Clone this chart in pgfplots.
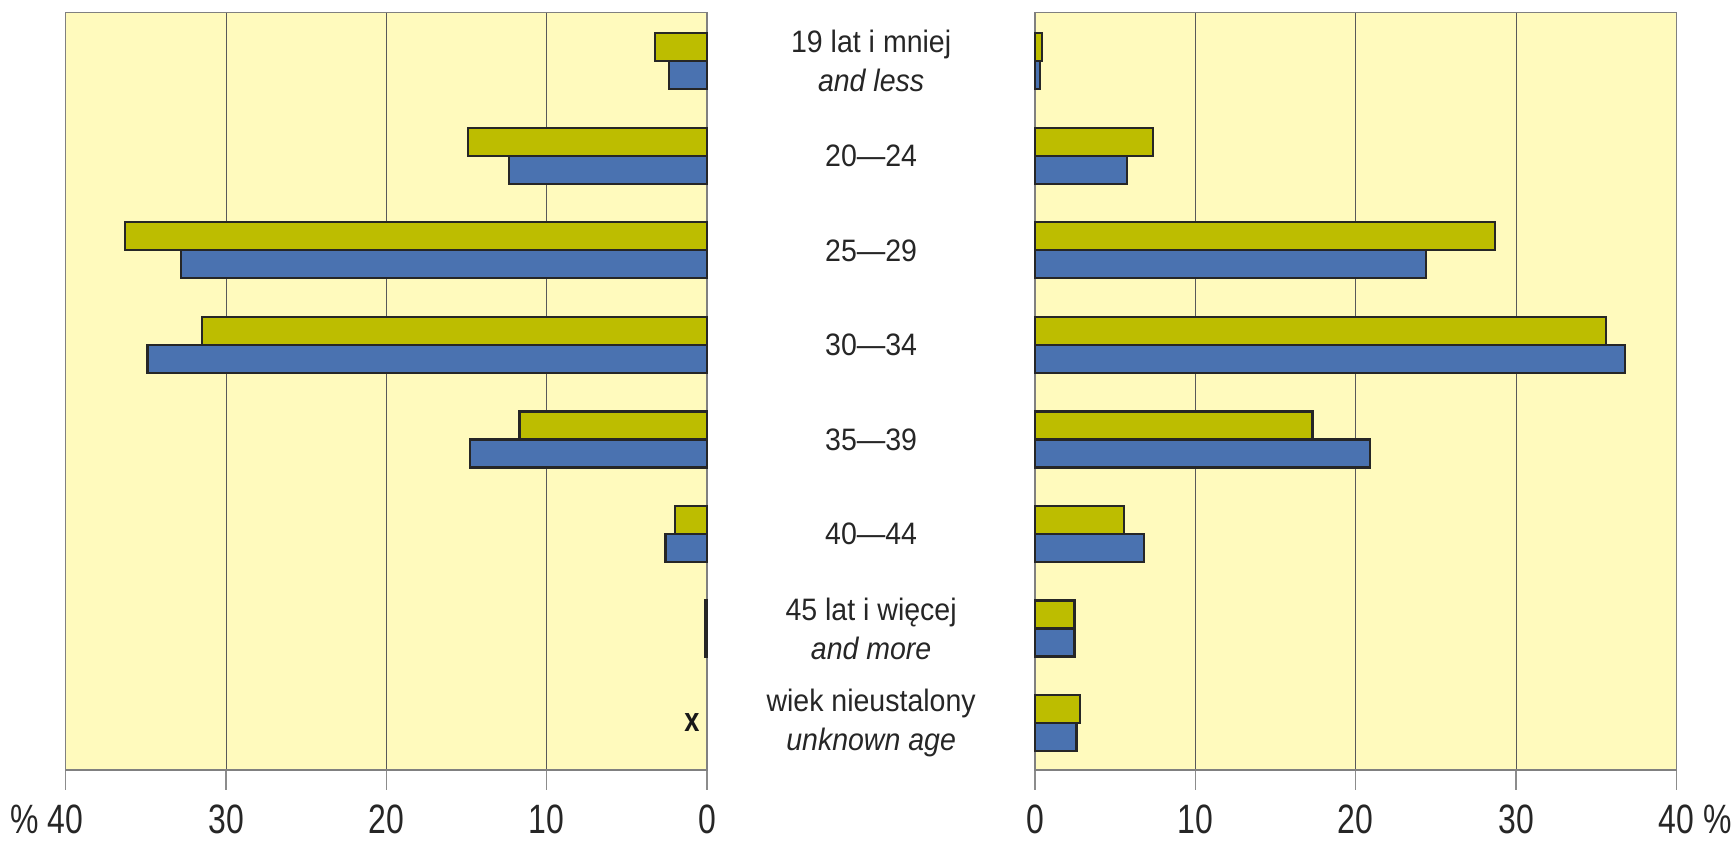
\documentclass[border=0pt]{standalone}
\usepackage{pgfplots}
\usepackage{pgfplotstable}
\pgfplotsset{compat=1.18}
\usepackage{fontspec}
\setmainfont{Liberation Sans}
\newfontfamily\catfont{Liberation Sans}[FakeStretch=0.92]
\newfontfamily\tickfont{Liberation Sans}[FakeStretch=0.78]
\newfontfamily\xfont{Liberation Sans}[FakeStretch=0.8]
\definecolor{bg}{RGB}{255,250,189}
\definecolor{olv}{RGB}{189,189,0}
\definecolor{blu}{RGB}{74,114,176}

\pgfplotstableread{
idx olive blue
7 3.25 2.4
6 14.9 12.35
5 36.3 32.8
4 31.5 34.9
3 11.7 14.8
2 2.0 2.6
1 0.12 0.12
}\lefttab

\pgfplotstableread{
idx olive blue
7 0.45 0.33
6 7.35 5.75
5 28.7 24.4
4 35.6 36.8
3 17.3 20.9
2 5.55 6.8
1 2.46 2.46
0 2.83 2.59
}\righttab

\pgfplotsset{pyr/.style={
  scale only axis, width=320.7pt, height=378.85pt,
  xmin=0, xmax=40, ymin=-0.497, ymax=7.518,
  axis background/.style={fill=bg},
  xtick={0,10,20,30,40}, ytick=\empty,
  xmajorgrids, grid style={black!65, line width=0.5pt},
  tick align=outside, xtick pos=left,
  major tick length=10pt,
  tick style={black!45, line width=0.6pt},
  axis line style={black!50, line width=0.6pt},
  xbar, bar width=14pt,
  xticklabel style={font=\tickfont\fontsize{20.5}{21}\selectfont, text=black!85, yshift=-4pt},
  clip=false,
}}

\begin{document}
\begin{tikzpicture}
\path[use as bounding box] (0,0) rectangle (866pt,422pt);

\begin{axis}[pyr, at={(32.85pt,37pt)}, anchor=south west, x dir=reverse,
  xticklabels={0,10,20,30,{\llap{\%\ }40}}]
\addplot[fill=olv, draw=black!85, line width=1.1pt, bar shift=7pt] table[x=olive,y=idx]{\lefttab};
\addplot[fill=blu, draw=black!85, line width=1.1pt, bar shift=-7pt] table[x=blue,y=idx]{\lefttab};
\node[font=\xfont\bfseries\fontsize{17}{17}\selectfont, text=black!90] at (axis cs:0.95,0) {x};
\begin{scope}[every node/.style={font=\catfont\fontsize{15.5}{19.5}\selectfont, align=center, text=black!85}]
\node at (axis cs:-10.23,7) {19 lat i mniej\\\textit{and less}};
\node at (axis cs:-10.23,6) {20—24};
\node at (axis cs:-10.23,5) {25—29};
\node at (axis cs:-10.23,4) {30—34};
\node at (axis cs:-10.23,3) {35—39};
\node at (axis cs:-10.23,2) {40—44};
\node at (axis cs:-10.23,1) {45 lat i więcej\\\textit{and more}};
\node at (axis cs:-10.23,0) {wiek nieustalony\\\textit{unknown age}};
\end{scope}
\end{axis}

\begin{axis}[pyr, at={(517.5pt,37pt)}, anchor=south west,
  xticklabels={0,10,20,30,{40\rlap{\ \%}}}]
\addplot[fill=olv, draw=black!85, line width=1.1pt, bar shift=7pt] table[x=olive,y=idx]{\righttab};
\addplot[fill=blu, draw=black!85, line width=1.1pt, bar shift=-7pt] table[x=blue,y=idx]{\righttab};
\end{axis}
\end{tikzpicture}
\end{document}
